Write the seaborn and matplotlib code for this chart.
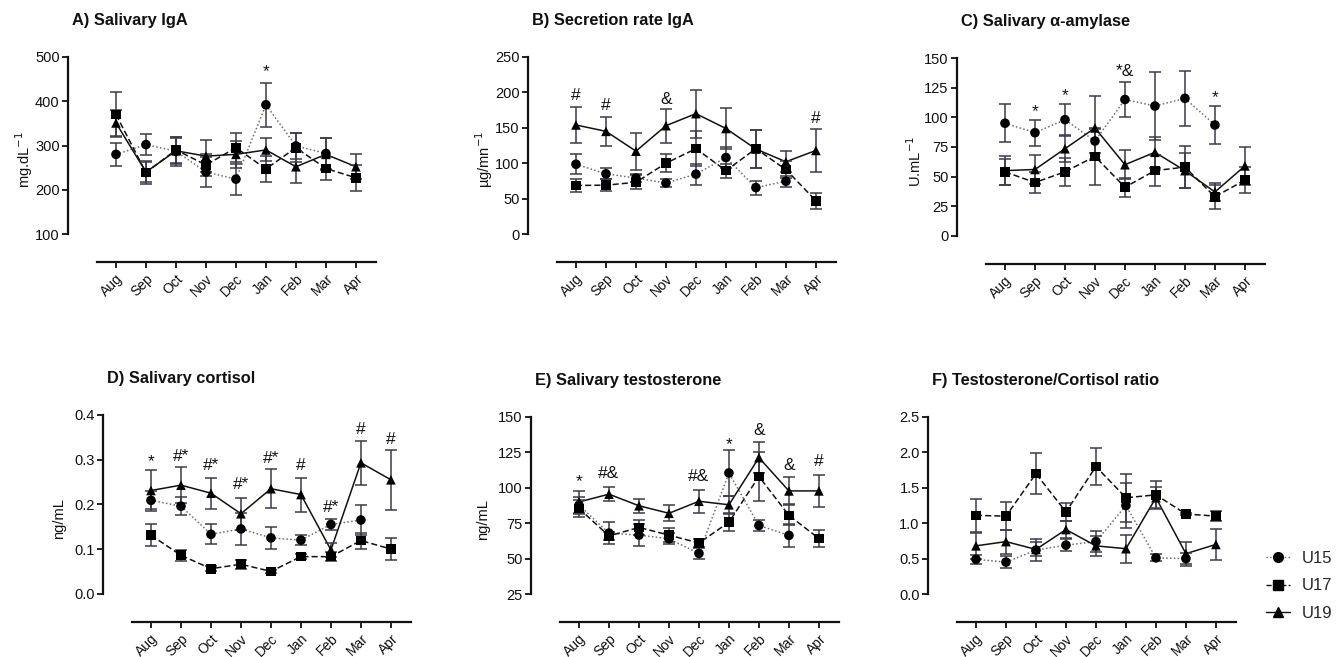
import numpy as np
import pandas as pd
import matplotlib
matplotlib.use('Agg')
import matplotlib.pyplot as plt
from matplotlib.lines import Line2D
import seaborn as sns

nan = np.nan
months = ['Aug', 'Sep', 'Oct', 'Nov', 'Dec', 'Jan', 'Feb', 'Mar', 'Apr']
groups = ['U15', 'U17', 'U19']

# A) Salivary IgA (mean, SEM)
iga_u15 = [280, 302, 287, 240, 224, 392, 299, 282, nan]
iga_u15_sem = [26, 24, 33, 33, 35, 50, 30, 35, nan]
iga_u17 = [370, 239, 290, 256, 295, 247, 295, 248, 227]
iga_u17_sem = [50, 25, 30, 25, 33, 30, 33, 26, 30]
iga_u19 = [351, 240, 288, 276, 280, 290, 252, 280, 252]
iga_u19_sem = [30, 22, 30, 37, 30, 26, 36, 36, 28]

# B) Secretion rate IgA
sr_u15 = [98.5, 85, 79, 72, 84.5, 108, 65.5, 74.5, nan]
sr_u15_sem = [14, 8, 6, 6, 15, 15, 10, 8, nan]
sr_u17 = [68.5, 69, 73, 100, 120.5, 89.5, 120.5, 91, 47]
sr_u17_sem = [9, 8, 10, 13, 25, 10, 27, 12, 11]
sr_u19 = [154, 145, 117, 153, 170, 149, 120, 102, 118]
sr_u19_sem = [25, 20, 26, 24, 34, 29, 27, 15, 30]

# C) Salivary alpha-amylase
amy_u15 = [95, 87, 98, 80, 115, 109.5, 116, 93.5, nan]
amy_u15_sem = [16, 11, 13, 10, 15, 29, 23, 16, nan]
amy_u17 = [54, 45, 54, 67, 41, 55, 58, 33, 47]
amy_u17_sem = [11, 9, 12, 24, 8, 13, 18, 10, 11]
amy_u19 = [55, 56, 73.5, 91, 60, 70.5, 55, 37, 59]
amy_u19_sem = [12, 12, 11, 27, 12, 13, 15, 8, 16]

# D) Salivary cortisol
cort_u15 = [0.209, 0.196, 0.133, 0.145, 0.125, 0.120, 0.155, 0.165, nan]
cort_u15_sem = [0.02, 0.02, 0.022, 0.035, 0.025, 0.012, 0.012, 0.034, nan]
cort_u17 = [0.131, 0.086, 0.056, 0.066, 0.050, 0.083, 0.083, 0.119, 0.100]
cort_u17_sem = [0.025, 0.012, 0.005, 0.01, 0.004, 0.005, 0.01, 0.018, 0.025]
cort_u19 = [0.231, 0.243, 0.225, 0.179, 0.235, 0.222, 0.098, 0.293, 0.255]
cort_u19_sem = [0.045, 0.04, 0.035, 0.036, 0.044, 0.038, 0.015, 0.049, 0.067]

# E) Salivary testosterone
test_u15 = [87.7, 68, 66.6, 64, 53.7, 110.5, 73.4, 66.4, nan]
test_u15_sem = [6, 8, 8, 4, 4, 16, 4, 8, nan]
test_u17 = [85.4, 66, 72, 66.6, 61, 75.7, 108, 80.5, 64.2]
test_u17_sem = [6, 3, 5, 5, 3, 6, 17, 7, 6]
test_u19 = [90, 95.5, 87.3, 82, 90.5, 88, 121.3, 97.8, 97.8]
test_u19_sem = [8, 5, 5, 5.5, 8, 6, 11, 9.5, 11.5]

# F) Testosterone/Cortisol ratio
tc_u15 = [0.49, 0.45, 0.62, 0.69, 0.74, 1.25, 0.51, 0.50, nan]
tc_u15_sem = [0.06, 0.08, 0.15, 0.08, 0.15, 0.32, 0.05, 0.08, nan]
tc_u17 = [1.11, 1.10, 1.70, 1.16, 1.80, 1.36, 1.40, 1.13, 1.10]
tc_u17_sem = [0.23, 0.2, 0.29, 0.13, 0.26, 0.34, 0.2, 0.02, 0.07]
tc_u19 = [0.68, 0.74, 0.63, 0.91, 0.68, 0.64, 1.36, 0.57, 0.70]
tc_u19_sem = [0.18, 0.17, 0.1, 0.12, 0.14, 0.2, 0.15, 0.17, 0.22]

# significance marks: (month index, y, text)
iga_marks = [(5, 466, '*')]
sr_marks = [(0, 196, '#'), (1, 182, '#'), (3, 190, '&'), (8, 163, '#')]
amy_marks = [(1, 105, '*'), (2, 118, '*'), (4, 138.5, '*&'), (7, 117, '*')]
cort_marks = [(0, 0.295, '*'), (1, 0.308, '#*'), (2, 0.286, '#*'), (3, 0.244, '#*'),
              (4, 0.302, '#*'), (5, 0.286, '#'), (6, 0.192, '#*'), (7, 0.368, '#'),
              (8, 0.345, '#')]
test_marks = [(0, 104.6, '*'), (1, 110, '#&'), (4, 107.7, '#&'), (5, 130.7, '*'),
              (6, 140.6, '&'), (7, 115.5, '&'), (8, 118.3, '#')]

sns.set_style('ticks')
plt.rcParams['font.family'] = ['Liberation Sans', 'DejaVu Sans']

W, H = 1342, 657
fig = plt.figure(figsize=(W / 100, H / 100), dpi=100)

markers = {'U15': 'o', 'U17': 's', 'U19': '^'}
dashes = {'U15': (1, 1.5), 'U17': (4, 2), 'U19': ''}
line_col = {'U15': '#6e6e6e', 'U17': '#111111', 'U19': '#111111'}
err_col = '#3b3b48'

panels = [
    ('A) Salivary IgA', 'mg.dL$^{-1}$', [100, 200, 300, 400, 500],
     (iga_u15, iga_u17, iga_u19), (iga_u15_sem, iga_u17_sem, iga_u19_sem), iga_marks,
     (68, 57, 262)),
    ('B) Secretion rate IgA', 'µg/mn$^{-1}$', [0, 50, 100, 150, 200, 250],
     (sr_u15, sr_u17, sr_u19), (sr_u15_sem, sr_u17_sem, sr_u19_sem), sr_marks,
     (528, 57, 262)),
    ('C) Salivary α-amylase', 'U.mL$^{-1}$', [0, 25, 50, 75, 100, 125, 150],
     (amy_u15, amy_u17, amy_u19), (amy_u15_sem, amy_u17_sem, amy_u19_sem), amy_marks,
     (957, 58, 264)),
    ('D) Salivary cortisol', 'ng/mL', [0.0, 0.1, 0.2, 0.3, 0.4],
     (cort_u15, cort_u17, cort_u19), (cort_u15_sem, cort_u17_sem, cort_u19_sem), cort_marks,
     (103, 415, 622)),
    ('E) Salivary testosterone', 'ng/mL', [25, 50, 75, 100, 125, 150],
     (test_u15, test_u17, test_u19), (test_u15_sem, test_u17_sem, test_u19_sem), test_marks,
     (531, 417, 622)),
    ('F) Testosterone/Cortisol ratio', '', [0.0, 0.5, 1.0, 1.5, 2.0, 2.5],
     (tc_u15, tc_u17, tc_u19), (tc_u15_sem, tc_u17_sem, tc_u19_sem), [],
     (928, 417, 622)),
]

x = np.arange(len(months))
for title, ylab, yt, means, sems, marks, (left, top, bottom) in panels:
    ax = fig.add_axes([left / W, 1 - bottom / H, 308 / W, (bottom - top) / H])
    df = pd.concat([pd.DataFrame({'idx': x, 'value': m, 'sem': s, 'group': g})
                    for g, m, s in zip(groups, means, sems)], ignore_index=True)
    df = df.dropna()
    sns.lineplot(data=df, x='idx', y='value', hue='group', style='group',
                 palette=line_col, dashes=dashes, linewidth=1.1, legend=False,
                 sort=False, ax=ax)
    for g in groups:
        d = df[df['group'] == g]
        ax.errorbar(d['idx'], d['value'], yerr=d['sem'], fmt='none', ecolor=err_col,
                    elinewidth=1.1, capsize=4.5, capthick=1.1, zorder=3, clip_on=False)
    sns.scatterplot(data=df, x='idx', y='value', style='group', markers=markers,
                    color='black', s=48, linewidth=0, legend=False, zorder=4, ax=ax)
    for i, yv, txt in marks:
        ax.text(i, yv, txt, ha='center', va='center', fontsize=12.5, color='#111111')

    # axis range: detached x axis about 28 px below the lowest y tick
    span = yt[-1] - yt[0]
    lo = yt[0] - span * 28 / 177
    ax.set_ylim(lo, yt[-1])
    ax.set_xlim(-1.6, 8.67)
    ax.set_yticks(yt)
    if isinstance(yt[0], float):
        ax.set_yticklabels([f'{v:.1f}' for v in yt])
    ax.set_xticks(x)
    ax.set_xticklabels(months, rotation=45, ha='right', rotation_mode='anchor')
    sns.despine(ax=ax)
    ax.spines['left'].set_bounds(yt[0], yt[-1])
    ax.spines['bottom'].set_bounds(-0.63, 8.67)
    for sp in ('left', 'bottom'):
        ax.spines[sp].set_linewidth(1.6)
        ax.spines[sp].set_color('#111111')
    ax.tick_params(axis='both', direction='out', length=4, width=1.3,
                   labelsize=10.5, colors='#111111', pad=2)
    ax.tick_params(axis='x', labelsize=10, pad=3)
    ax.set_xlabel('')
    # superscript labels sit wider, so pull them in closer to the ticks
    ax.set_ylabel(ylab, fontsize=10.5, color='#111111', labelpad=0 if '^' in ylab else 6)
    ax.set_title(title, loc='left', fontsize=11.8, fontweight='bold', pad=23,
                 x=4 / 308, color='#111111')

handles = [Line2D([], [], color=line_col[g], linestyle=ls, marker=markers[g],
                  markerfacecolor='black', markeredgecolor='black', markersize=7,
                  linewidth=1)
           for g, ls in zip(groups, [':', '--', '-'])]
fig.legend(handles, groups, loc='center left', bbox_to_anchor=(1258 / W, 1 - 586 / H),
           frameon=False, fontsize=12, handlelength=1.4, handletextpad=0.7,
           labelspacing=0.75, borderpad=0)

fig.savefig('out.png', dpi=100, facecolor='white')
